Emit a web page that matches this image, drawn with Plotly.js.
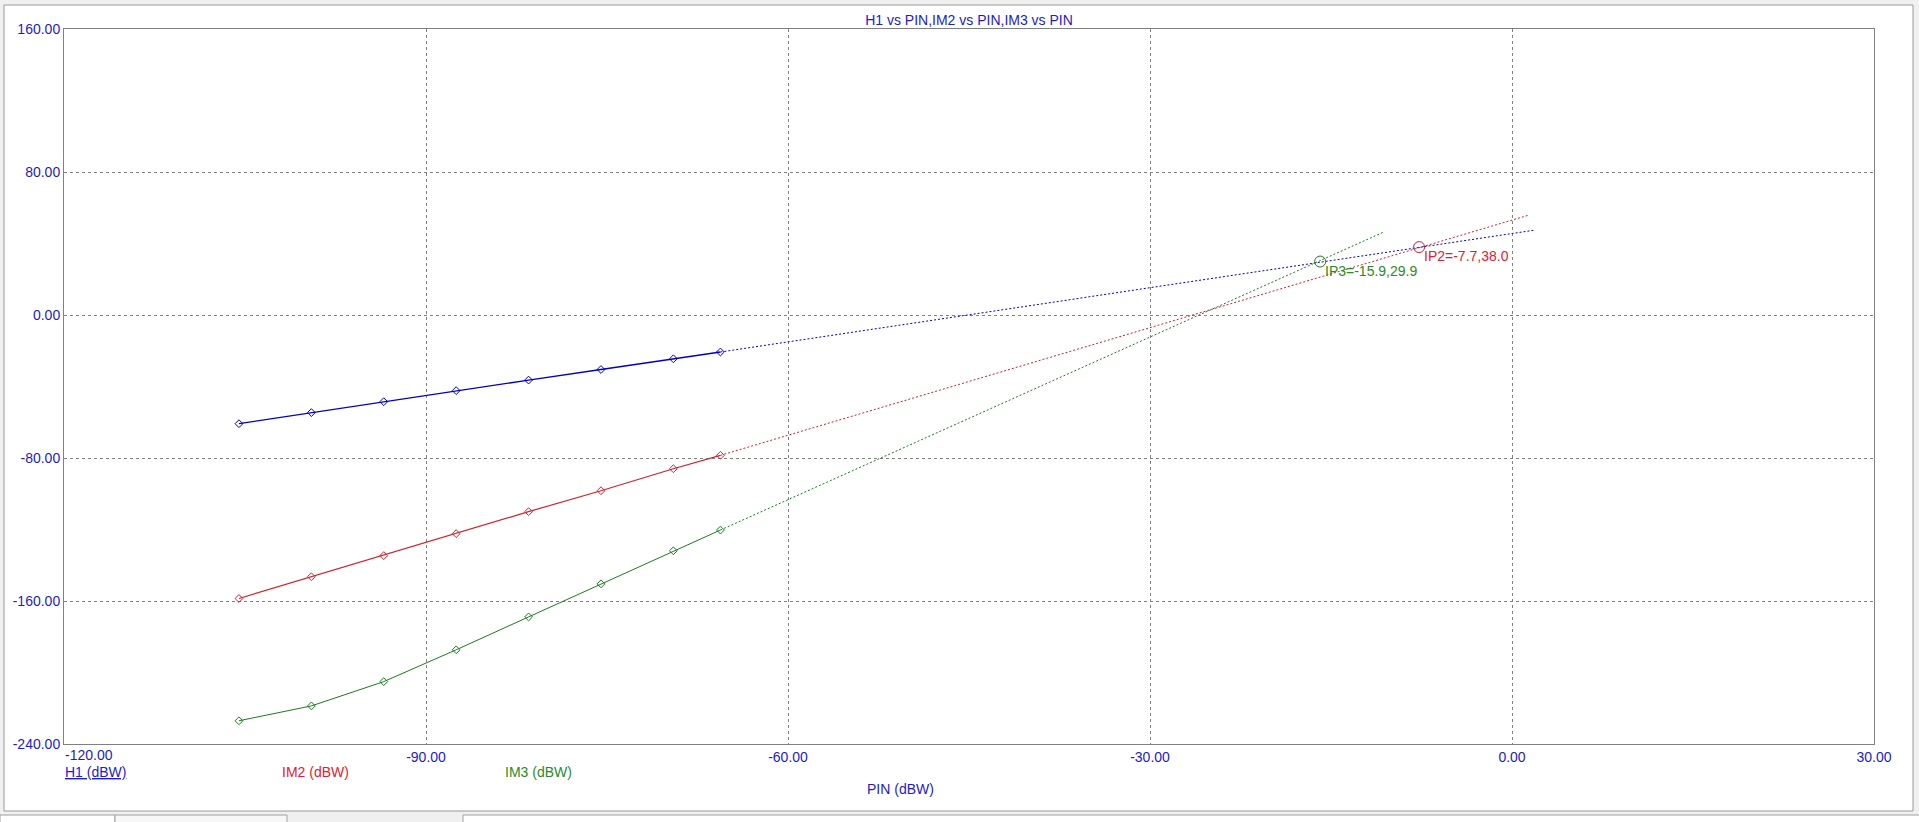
<!DOCTYPE html>
<html>
<head>
<meta charset="utf-8">
<script src="https://cdn.plot.ly/plotly-3.0.1.min.js"></script>
<style>
  html, body { margin: 0; padding: 0; background: #f0f0f0; }
  #chart { width: 1919px; height: 822px; }
</style>
</head>
<body>
<div id="chart"></div>
<script>
// ---- data ----
const pin = [-105.5, -99.5, -93.5, -87.5, -81.5, -75.5, -69.5, -65.6];
const h1  = [-60.8, -54.6, -48.5, -42.3, -36.4, -30.5, -24.5, -20.7];
const im2 = [-158.6, -146.4, -134.6, -122.3, -110.0, -98.3, -86.0, -78.5];
const im3 = [-227.0, -218.7, -205.1, -187.3, -168.9, -150.4, -131.9, -120.3];

// extrapolation lines (dotted)
const h1ExtX  = [-65.6, 1.9];
const h1ExtY  = [-20.7, 47.5];
const im2ExtX = [-65.6, 1.3];
const im2ExtY = [-78.5, 55.7];
const im3ExtX = [-65.6, -10.7];
const im3ExtY = [-120.3, 46.2];

// intercept points
const ipNames = ['IP3', 'IP2'];
const ipX = [-15.9, -7.7];
const ipY = [29.9, 38.0];

// axes
const xTicks = [-90, -60, -30, 0, 30];
const xFirstTick = -120;
const yTicks = [160, 80, 0, -80, -160, -240];
const seriesLabels = ['H1 (dBW)', 'IM2 (dBW)', 'IM3 (dBW)'];
const xLabel = 'PIN (dBW)';
const chartTitle = 'H1 vs PIN,IM2 vs PIN,IM3 vs PIN';

// ---- styling ----
const BLUE = '#0000c8';
const TXTBLUE = '#1c1cc8';
const RED = '#d0202c';
const TXTRED = '#e02030';
const GREEN = '#1e7a1e';
const TXTGREEN = '#2a8a2a';
const FONT = 'Liberation Sans, Arial, sans-serif';
const txtColors = [TXTBLUE, TXTRED, TXTGREEN];

function solid(x, y, c, w) {
  return { x: x, y: y, type: 'scatter', mode: 'lines+markers',
    line: { color: c, width: w },
    marker: { symbol: 'diamond-open', size: 6, color: c, line: { color: c, width: 1 } },
    hoverinfo: 'x+y', showlegend: false };
}
function dotted(x, y, c) {
  return { x: x, y: y, type: 'scatter', mode: 'lines',
    line: { color: c, width: 1, dash: '2px,2px' }, hoverinfo: 'skip', showlegend: false };
}

const traces = [
  dotted(im3ExtX, im3ExtY, GREEN),
  dotted(im2ExtX, im2ExtY, RED),
  dotted(h1ExtX, h1ExtY, BLUE),
  solid(pin, im3, GREEN, 1),
  solid(pin, im2, RED, 1.2),
  solid(pin, h1, BLUE, 1.4),
  { x: ipX, y: ipY, type: 'scatter', mode: 'markers',
    marker: { symbol: 'circle-open', size: 11, color: [GREEN, RED], line: { color: [GREEN, RED], width: 1 } },
    hoverinfo: 'x+y', showlegend: false }
];

// plot area in pixels: left 64, right 1874, top 29, bottom 744
const W = 1919, H = 822, L = 64, R = 45, T = 29, B = 78;
const pw = W - L - R, ph = H - T - B;
const px = X => (X - L) / pw;
const py = Y => (H - B - Y) / ph;

const annotations = [];
ipNames.forEach((n, i) => {
  annotations.push({
    x: ipX[i], y: ipY[i], xref: 'x', yref: 'y',
    text: n + '=' + ipX[i].toFixed(1) + ',' + ipY[i].toFixed(1),
    showarrow: false, xanchor: 'left', yanchor: 'middle', xshift: 3, yshift: -9,
    font: { family: FONT, size: 14, color: i === 0 ? TXTGREEN : TXTRED }
  });
});
annotations.push({
  x: 0, y: 0, xref: 'paper', yref: 'paper', text: xFirstTick.toFixed(2),
  showarrow: false, xanchor: 'left', yanchor: 'middle', xshift: -1, yshift: -11,
  font: { family: FONT, size: 14, color: TXTBLUE }
});
const legendX = [64, 281, 504];
seriesLabels.forEach((s, i) => {
  annotations.push({
    x: 0, y: 0, xref: 'paper', yref: 'paper',
    text: i === 0 ? '<u>' + s + '</u>' : s,
    showarrow: false, xanchor: 'left', yanchor: 'middle',
    xshift: legendX[i] - L - 1, yshift: -(772 - (H - B)),
    font: { family: FONT, size: 14, color: txtColors[i] }
  });
});
annotations.push({
  x: 0, y: 0, xref: 'paper', yref: 'paper', text: xLabel,
  showarrow: false, xanchor: 'center', yanchor: 'middle',
  xshift: 900 - L, yshift: -(789 - (H - B)),
  font: { family: FONT, size: 14, color: TXTBLUE }
});

const shapes = [
  { type: 'rect', xref: 'paper', yref: 'paper', layer: 'below',
    x0: px(4), x1: px(1913), y0: py(811), y1: py(5),
    fillcolor: '#ffffff', line: { color: '#9a9a9a', width: 1 } },
  { type: 'rect', xref: 'paper', yref: 'paper', layer: 'below',
    x0: px(0), x1: px(115), y0: py(824), y1: py(815),
    fillcolor: '#ffffff', line: { color: '#a0a0a0', width: 1 } },
  { type: 'rect', xref: 'paper', yref: 'paper', layer: 'below',
    x0: px(115), x1: px(287), y0: py(824), y1: py(815),
    fillcolor: '#f7f7f7', line: { color: '#a0a0a0', width: 1 } },
  { type: 'rect', xref: 'paper', yref: 'paper', layer: 'below',
    x0: px(463), x1: px(1921), y0: py(824), y1: py(815),
    fillcolor: '#ffffff', line: { color: '#a0a0a0', width: 1 } }
];

const axisCommon = {
  showline: true, mirror: true, linecolor: '#808080', linewidth: 1,
  showgrid: true, gridcolor: '#808080', gridwidth: 1, griddash: '3px,3px',
  zeroline: false, ticks: '', ticklen: 0,
  tickfont: { family: FONT, size: 14, color: TXTBLUE }
};

const layout = {
  width: W, height: H,
  margin: { l: L, r: R, t: T, b: B, pad: 0 },
  paper_bgcolor: '#f0f0f0', plot_bgcolor: '#ffffff',
  title: { text: chartTitle, x: 0.5, xref: 'paper', y: 1 - 20.5 / H, yref: 'container',
    xanchor: 'center', yanchor: 'middle',
    font: { family: FONT, size: 14, color: TXTBLUE } },
  xaxis: Object.assign({}, axisCommon, { range: [-120, 30], tickmode: 'array',
    tickvals: xTicks, ticktext: xTicks.map(v => v.toFixed(2)) }),
  yaxis: Object.assign({}, axisCommon, { range: [-240, 160], tickmode: 'array',
    tickvals: yTicks, ticktext: yTicks.map(v => v.toFixed(2)), ticklabelstandoff: 0 }),
  annotations: annotations,
  shapes: shapes,
  showlegend: false,
  hovermode: 'closest'
};

Plotly.newPlot('chart', traces, layout, { displayModeBar: false });
</script>
</body>
</html>
